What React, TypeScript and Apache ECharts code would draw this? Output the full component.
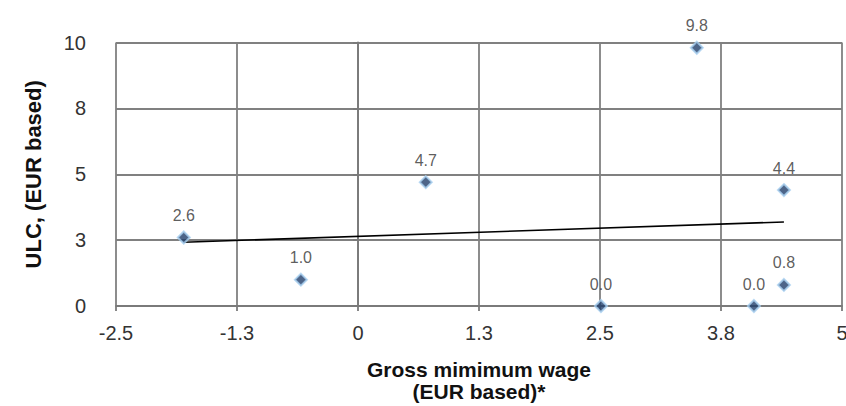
import React, { useEffect, useRef } from "react";
import * as echarts from "echarts";

const wageGrowth = [-1.8, -0.59, 0.7, 2.51, 3.5, 4.4, 4.09, 4.4];
const ulcGrowth = [2.6, 1.0, 4.7, 0.0, 9.8, 4.4, 0.0, 0.8];
const trendX = [-1.8, 4.4];
const trendY = [2.42, 3.19];

export default function App() {
  const ref = useRef<HTMLDivElement>(null);
  useEffect(() => {
    if (!ref.current) return;
    const chart = echarts.init(ref.current, undefined, { renderer: "svg" });
    const font = "'Liberation Sans', Arial, sans-serif";
    chart.setOption({
      animation: false,
      backgroundColor: "#ffffff",
      grid: { left: 116, right: 4, top: 42.5, bottom: 100, outerBoundsMode: "none", containLabel: false },
      xAxis: {
        type: "value",
        min: -2.5,
        max: 5,
        interval: 1.25,
        name: "Gross mimimum wage\n(EUR based)*",
        nameLocation: "middle",
        nameGap: 52,
        nameTextStyle: { fontFamily: font, fontSize: 21, fontWeight: "bold", color: "#111111", lineHeight: 22 },
        axisLine: { show: true, onZero: false, lineStyle: { color: "#7a7a7a", width: 1.8 } },
        axisTick: { show: true, length: 5, lineStyle: { color: "#7a7a7a", width: 1.8 } },
        splitLine: { show: true, lineStyle: { color: "#808080", width: 1.8 } },
        axisLabel: {
          fontFamily: font,
          fontSize: 20,
          color: "#333333",
          margin: 17,
          formatter: (v: number) => (Number.isInteger(v) ? String(v) : v.toFixed(1)),
        },
      },
      yAxis: {
        type: "value",
        min: 0,
        max: 10,
        interval: 2.5,
        name: "ULC, (EUR based)",
        nameLocation: "middle",
        nameRotate: 90,
        nameGap: 72,
        nameTextStyle: { fontFamily: font, fontSize: 22, fontWeight: "bold", color: "#111111" },
        axisLine: { show: true, lineStyle: { color: "#7a7a7a", width: 1.8 } },
        axisTick: { show: true, length: 5, lineStyle: { color: "#7a7a7a", width: 1.8 } },
        splitLine: { show: true, lineStyle: { color: "#808080", width: 1.8 } },
        axisLabel: {
          fontFamily: font,
          fontSize: 20,
          color: "#333333",
          margin: 30,
          formatter: (v: number) => String(Math.round(v)),
        },
      },
      series: [
        {
          type: "line",
          data: trendX.map((x, i) => [x, trendY[i]]),
          symbol: "none",
          lineStyle: { color: "#000000", width: 1.6 },
          z: 2,
        },
        {
          type: "scatter",
          data: wageGrowth.map((x, i) => [x, ulcGrowth[i]]),
          symbol: "diamond",
          symbolSize: 12,
          itemStyle: {
            color: "#203f6c",
            borderColor: "#a8cff0",
            borderWidth: 2,
          },
          label: {
            show: true,
            position: "top",
            distance: 7,
            fontFamily: font,
            fontSize: 16,
            color: "#333333",
            formatter: (p: any) => p.value[1].toFixed(1),
          },
          z: 3,
        },
      ],
    });
    return () => chart.dispose();
  }, []);
  return (
    <div
      ref={ref}
      style={{ position: "absolute", left: 0, top: 0, width: 846, height: 406 }}
    />
  );
}
